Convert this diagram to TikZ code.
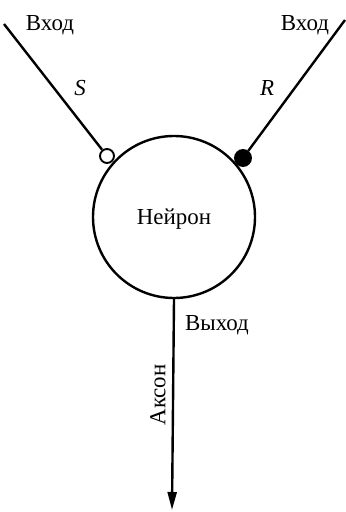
\documentclass[tikz,border=0pt]{standalone}
\usepackage{fontspec}
\setmainfont{Liberation Serif}
\usepackage{tikz}
\usetikzlibrary{arrows.meta,positioning}
\tikzstyle{lbl}=[font=\fontsize{23}{26}\selectfont, inner sep=0pt]
\tikzstyle{wire}=[line width=2.4bp]

\begin{document}
\begin{tikzpicture}[x=1bp,y=-1bp,
  cell/.style={circle,draw,line width=2.4bp,minimum size=162bp,inner sep=0pt,text depth=0pt,font=\fontsize{23}{26}\selectfont},
  exc/.style={circle,draw,line width=1.9bp,fill=white,minimum size=14bp,inner sep=0pt},
  inh/.style={circle,draw,line width=1.9bp,fill=black,minimum size=16bp,inner sep=0pt}]
\useasboundingbox (0,0) rectangle (345,512);

% neuron body
\node[cell] (N) at (174,217) {Нейрон};

% synapses
\node[exc] (S) at (107,156) {};
\node[inh] (R) at (243,158) {};
\coordinate (inS) at (4,24);
\coordinate (inR) at (345,20);
\draw[wire] (inS) -- (S);
\draw[wire] (inR) -- (R);
\node[lbl] (inSlbl) at (50,25) {Вход};
\node[lbl] (inRlbl) at (305,25) {Вход};
\node[lbl] (Slbl) at (80,88) {\textit{S}};
\node[lbl] (Rlbl) at (267,88) {\textit{R}};

% axon
\coordinate (out) at (172,510);
\draw[wire,-{Triangle[length=18bp,width=9bp]}] (N.south) -- (out);
\node[lbl] (outlbl) at (217,325) {Выход};
\node[lbl,rotate=90] (axlbl) at (158,395) {Аксон};
\end{tikzpicture}
\end{document}
